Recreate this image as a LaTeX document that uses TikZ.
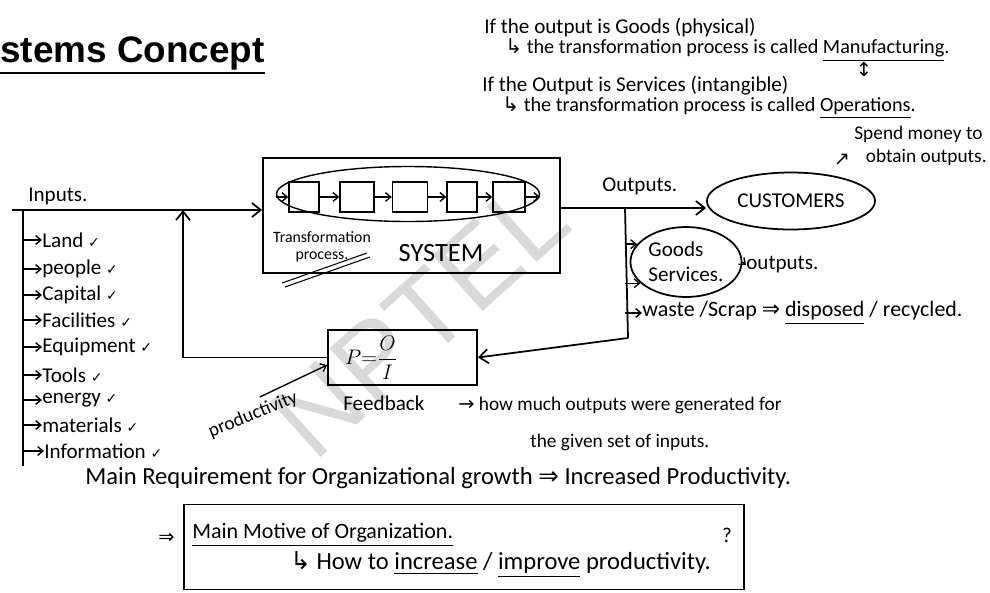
\documentclass[tikz,border=0pt]{standalone}
\usepackage{amsmath}
\usepackage{fontspec}
\setmainfont{Carlito}
\newfontfamily\titlefont{Liberation Sans}
\newfontfamily\symfont{DejaVu Sans}
\usetikzlibrary{arrows.meta, positioning, shapes.geometric}
\newcommand{\tickmark}{{\symfont\fontsize{8}{8}\selectfont ✓}}

\begin{document}
\begin{tikzpicture}[
  x=0.02cm, y=-0.02cm,
  hand/.style={font=\fontsize{12}{14}\selectfont, inner sep=0pt, anchor=west},
  small hand/.style={font=\fontsize{9}{10}\selectfont, inner sep=0pt, align=center},
  pen/.style={line width=1pt},
  box/.style={draw, line width=1pt},
  cell/.style={draw, line width=0.8pt, minimum width=0.6cm, minimum height=0.6cm, inner sep=0pt},
  arr/.style={-{Straight Barb[length=5pt, width=8pt]}, line width=1pt},
  sarr/.style={-{Straight Barb[length=3pt, width=5pt]}, line width=0.8pt},
]
\useasboundingbox (0,0) rectangle (990,592);

% watermark
\node[font=\titlefont\fontsize{62}{62}\selectfont, text=gray!30, rotate=42] (watermark) at (420,318) {NPTEL};

% title
\node[font=\titlefont\bfseries\fontsize{21}{24}\selectfont, anchor=base west, inner sep=0pt] (title) at (0,62) {stems Concept};
\draw[pen] ([yshift=-1.5pt]title.south west) -- ([yshift=-1.5pt]title.south east);

% goods / services notes
\node[hand] (goods def) at (484,27) {If the output is Goods (physical)};
\node[hand, font=\fontsize{11.5}{14}\selectfont] (manuf def) at (505,50) {{\symfont ↳} the transformation process is called \underline{Manufacturing}.};
\node[hand, anchor=center, font=\symfont\fontsize{11}{12}\selectfont] (swap) at (864,70) {↕};
\node[hand] (serv def) at (482,86) {If the Output is Services (intangible)};
\node[hand, font=\fontsize{11.5}{14}\selectfont] (oper def) at (502,108) {{\symfont ↳} the transformation process is called \underline{Operations}.};
\node[hand, anchor=center, font=\symfont\fontsize{11}{12}\selectfont] (spend arrow) at (842,160) {↗};
\node[hand, align=left, font=\fontsize{11}{13}\selectfont] (spend) at (854,146) {Spend money to\\\hspace{0.6em}obtain outputs.};

% inputs
\node[hand] (inputs) at (28,196) {Inputs.};
\coordinate (in start) at (12,210);
\coordinate (list top) at (23,210);
\coordinate (list end) at (23,466);
\coordinate (fb top) at (183,210);

\node[hand] (land) at (42,240) {Land \tickmark};
\node[hand] (people) at (42,269) {people \tickmark};
\node[hand] (capital) at (42,295) {Capital \tickmark};
\node[hand] (facilities) at (42,320) {Facilities \tickmark};
\node[hand] (equipment) at (42,347) {Equipment \tickmark};
\node[hand] (tools) at (42,375) {Tools \tickmark};
\node[hand] (energy) at (42,400) {energy \tickmark};
\node[hand] (materials) at (42,425) {materials \tickmark};
\node[hand] (information) at (44,451) {Information \tickmark};

\draw[pen] (list top) -- (list end);
\foreach \n in {land,people,capital,facilities,equipment,tools,energy,materials,information}
  \draw[sarr] (list top |- \n.west) -- (\n.west);

% system
\node[box, minimum width=5.94cm, minimum height=2.3cm] (system) at (411.5,215.5) {};
\node[draw, ellipse, line width=0.8pt, minimum width=5.26cm, minimum height=1.1cm] (trans) at (408,194) {};
\node[cell] (c1) at (304,197) {};
\node[cell, minimum width=0.68cm] (c2) at (357,197) {};
\node[cell, minimum width=0.7cm] (c3) at (410,197) {};
\node[cell] (c4) at (462,197) {};
\node[cell, minimum width=0.64cm] (c5) at (509,197) {};
\draw[sarr] (trans.west |- c1) -- (c1);
\draw[sarr] (c1) -- (c2);
\draw[sarr] (c2) -- (c3);
\draw[sarr] (c3) -- (c4);
\draw[sarr] (c4) -- (c5);
\draw[sarr] (c5) -- (trans.east |- c5);
\node[small hand] (trans label) at (322,247) {Transformation\\process.};
\draw[line width=0.6pt] (282,283) -- (367,253);
\draw[line width=0.6pt] (285,287) -- (370,257);
\node[hand, anchor=center, font=\fontsize{15}{16}\selectfont] (sys label) at (441,253) {SYSTEM};
\draw[arr] (in start) -- (system.west |- in start);

% productivity
\node[box, minimum width=2.98cm, minimum height=0.94cm, text width=2.3cm, inner xsep=0.34cm, align=left, font=\fontsize{13}{14}\selectfont] (pbox) at (402.5,357.5) {$P{=}\dfrac{O}{I}$};
\draw[arr] (pbox.west) -| (fb top);
\node[hand, anchor=center, rotate=22, font=\fontsize{11}{12}\selectfont] (prod) at (253,415) {productivity};
\draw[sarr] ([shift={(0.2cm,0.2cm)}]prod.north) -- ([yshift=-0.15cm]pbox.west);

% outputs
\coordinate (out join) at (625,208);
\coordinate (out bend) at (628,338);
\node[hand] (outputs) at (602,186) {Outputs.};
\node[draw, ellipse, pen, minimum width=2.76cm, minimum height=1.14cm, font=\fontsize{12}{14}\selectfont] (customers) at (791,201) {CUSTOMERS};
\draw[arr] (system.east |- out join) -- (customers.west |- out join);
\node[draw, ellipse, pen, minimum width=1.86cm, minimum height=1.4cm, inner sep=1pt, align=left, font=\fontsize{12}{14}\selectfont] (goods) at (686,262) {Goods\\Services.};
\draw[sarr] (out join |- goods.160) -- (goods.160);
\draw[sarr] (out join |- goods.205) -- (goods.205);
\node[hand] (goods out) at (746,265) {outputs.};
\draw[sarr] (goods.east) -- (goods out.west);
\node[hand, font=\fontsize{12.5}{14}\selectfont] (waste) at (642,313) {waste /Scrap {\symfont ⇒} \underline{disposed} / recycled.};
\draw[sarr] (out join |- waste.west) -- (waste.west);
\draw[pen] (out join) -- (out bend);
\draw[arr] (out bend) -- (pbox.east);

% feedback
\node[hand] (feedback) at (343,403) {Feedback};
\node[hand, font=\fontsize{11}{13}\selectfont] (fb how) at (458,405) {{\symfont →} how much outputs were generated for};
\node[hand, font=\fontsize{11}{13}\selectfont] (fb given) at (530,442) {the given set of inputs.};

% growth
\node[hand, font=\fontsize{14}{16}\selectfont] (req) at (85,478) {Main Requirement for Organizational growth {\symfont ⇒} Increased Productivity.};
\node[box, minimum width=11.2cm, minimum height=1.7cm] (motive box) at (464,547) {};
\node[hand, font=\symfont\fontsize{11}{12}\selectfont] (motive arrow) at (158,538) {⇒};
\node[hand, font=\fontsize{12.5}{14}\selectfont] (motive) at (192,535) {\underline{Main Motive of Organization.}};
\node[hand, font=\fontsize{14}{16}\selectfont] (improve) at (290,565) {{\symfont ↳} How to \underline{increase} / \underline{improve} productivity.};
\node[hand, anchor=center] (qmark) at (727,535) {?};

\end{tikzpicture}
\end{document}
